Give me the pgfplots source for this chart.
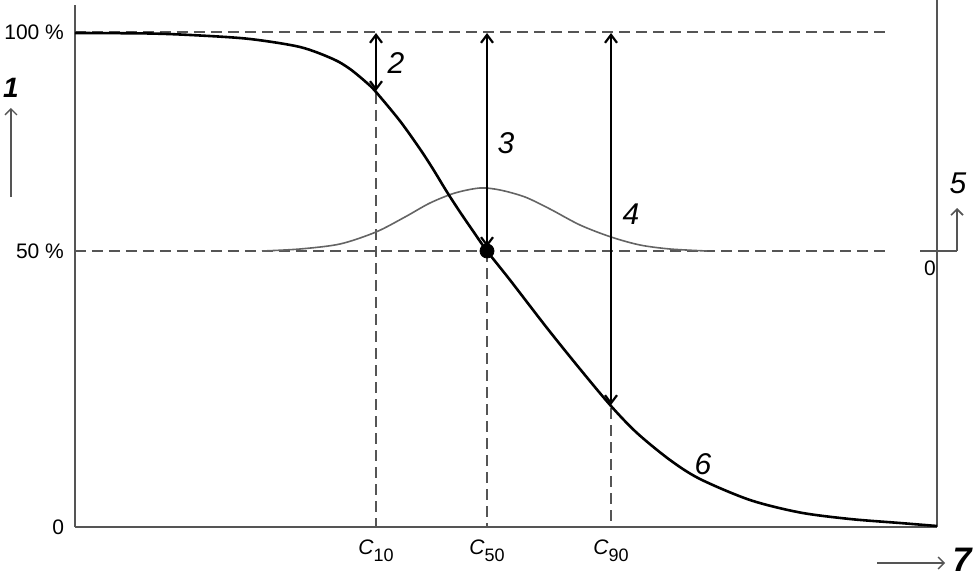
\documentclass[border=0pt]{standalone}
\usepackage{pgfplots}
\pgfplotsset{compat=1.18}
\usepackage{fontspec}
\setmainfont{Liberation Sans}
\usetikzlibrary{arrows.meta}
\definecolor{axgray}{RGB}{85,85,85}
\definecolor{gausgray}{RGB}{100,100,100}

\begin{document}
\begin{tikzpicture}
\begin{axis}[
    x=0.5pt, y=0.5pt,
    xmin=75, xmax=937,
    ymin=0, ymax=522,
    axis lines=left,
    axis line style={-, draw=axgray, line width=1pt},
    clip=false,
    major tick length=0pt,
    xtick={376,487,611},
    xticklabels={
        {\itshape C}\raisebox{-3.5pt}{\fontsize{9}{9}\selectfont 10},
        {\itshape C}\raisebox{-3.5pt}{\fontsize{9}{9}\selectfont 50},
        {\itshape C}\raisebox{-3.5pt}{\fontsize{9}{9}\selectfont 90}},
    ytick={0,276,495},
    yticklabels={0, 50 \%, 100 \%},
    tick label style={font=\fontsize{10.5}{12}\selectfont},
    xticklabel style={yshift=-3pt},
    yticklabel style={xshift=-2pt},
]
% reference dashed lines
\draw[axgray, line width=0.9pt, dash pattern=on 5.5pt off 3pt] (75,495) -- (887,495);
\draw[axgray, line width=0.9pt, dash pattern=on 5.5pt off 3pt] (75,276) -- (887,276);
\draw[axgray, line width=0.9pt, dash pattern=on 5.5pt off 3pt] (376,434) -- (376,0);
\draw[axgray, line width=0.9pt, dash pattern=on 5.5pt off 3pt] (487,276) -- (487,0);
\draw[axgray, line width=0.9pt, dash pattern=on 5.5pt off 3pt] (611,119) -- (611,0);

% right axis line
\draw[axgray, line width=1pt] (937,0) -- (937,527);

% distribution curve (thin, gray)
\addplot[gausgray, line width=0.8pt, smooth] coordinates {
    (262,276) (300,278) (340,283) (376,295) (405,310) (430,324)
    (455,334) (480,339) (500,337) (525,330) (550,318) (580,302)
    (611,290) (640,282) (670,278) (707,276)
};

% dose-response curve 6
\addplot[black, line width=1.3pt, smooth] coordinates {
    (75,494) (150,493.5) (200,491.5) (250,488) (300,480) (333,468)
    (350,458) (367,444) (376,435) (400,406) (420,378) (433,358)
    (447,335) (460,315) (473,296) (487,276) (510,247) (547,199)
    (580,158) (611,121) (637,94) (670,67) (700,48) (750,27)
    (800,14.5) (850,8) (900,4) (937,1)
};

% C50 point
\addplot[only marks, mark=*, mark size=3.5pt, black] coordinates {(487,276)};

% double arrows 2, 3, 4
\draw[black, line width=1.1pt, {Straight Barb[length=4pt,width=6pt]}-{Straight Barb[length=4pt,width=6pt]}] (376,494) -- (376,436);
\draw[black, line width=1.1pt, {Straight Barb[length=4pt,width=6pt]}-{Straight Barb[length=4pt,width=6pt]}] (487,494) -- (487,280);
\draw[black, line width=1.1pt, {Straight Barb[length=4pt,width=6pt]}-{Straight Barb[length=4pt,width=6pt]}] (611,494) -- (611,122);

% number labels
\node[font=\fontsize{15}{15}\selectfont\itshape] at (396,464) {2};
\node[font=\fontsize{15}{15}\selectfont\itshape] at (506,384) {3};
\node[font=\fontsize{15}{15}\selectfont\itshape] at (631,313) {4};
\node[font=\fontsize{15}{15}\selectfont\itshape] at (703,63) {6};

% left label 1
\node[font=\fontsize{14}{14}\selectfont\bfseries\itshape] at (11,439) {1};
\draw[axgray, line width=0.7pt, -{Straight Barb[length=3pt,width=6pt]}] (11,330) -- (11,419);

% right scale 5
\draw[axgray, line width=0.8pt] (920,276) -- (957,276);
\draw[axgray, line width=0.8pt, -{Straight Barb[length=3pt,width=6pt]}] (957,276) -- (957,319);
\node[font=\fontsize{15}{15}\selectfont\itshape] at (958,344) {5};
\node[font=\fontsize{10.5}{12}\selectfont] at (930,259) {0};

% x direction 7
\draw[axgray, line width=0.7pt, -{Straight Barb[length=3pt,width=6pt]}] (877,-36) -- (945,-36);
\node[font=\fontsize{17}{17}\selectfont\bfseries\itshape] at (962,-33) {7};

\coordinate (BL) at (0,-52);
\coordinate (TR) at (980,527);
\end{axis}
\pgfresetboundingbox
\path[use as bounding box] (BL) rectangle (TR);
\end{tikzpicture}
\end{document}
